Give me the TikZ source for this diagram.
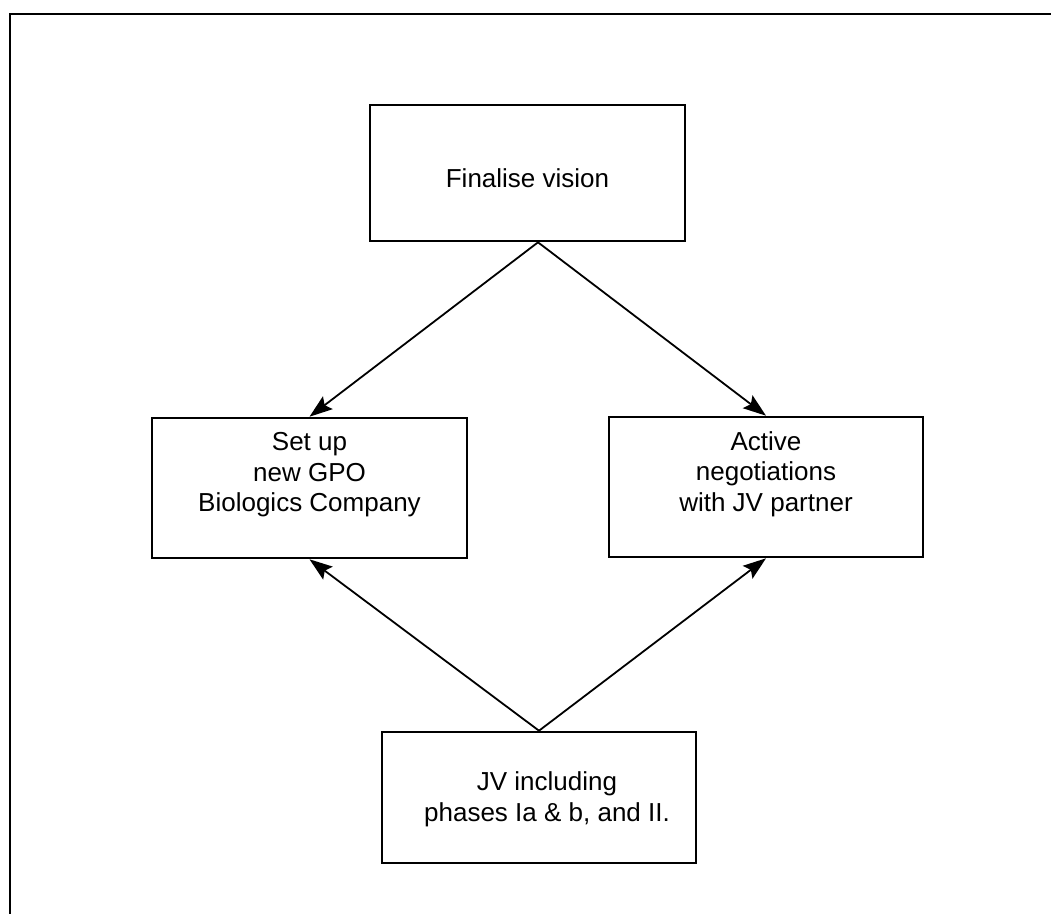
\documentclass[tikz,border=0pt]{standalone}
\usepackage{fontspec}
\setmainfont{Liberation Sans}
\usetikzlibrary{arrows.meta}
\begin{document}
\begin{tikzpicture}[x=1pt,y=-1pt,
  box/.style={draw, line width=2.6pt, minimum width=#1, inner sep=0pt},
  lbl/.style={align=center, font=\fontsize{26}{30.5}\selectfont, inner sep=0pt},
  arr/.style={line width=1.8pt, -{Stealth[length=23pt,width=16pt,inset=4pt]}},
  frame/.style={line width=2pt}]
\useasboundingbox (0,0) rectangle (1051,914);
\draw[frame] (1051,14) -- (10,14) -- (10,914);
% boxes
\node[box=315pt, minimum height=136pt] (fin) at (527.5,173) {};
\node[box=315pt, minimum height=140pt] (s) at (309.5,488) {};
\node[box=314pt, minimum height=140pt] (a) at (766,487) {};
\node[box=314pt, minimum height=131pt] (jv) at (539,797.5) {};
% labels
\node[lbl] (finl) at ([yshift=-5pt]fin.center) {Finalise vision};
\node[lbl] (sl) at ([yshift=13pt]s.center) {Set up\\new GPO\\Biologics Company};
\node[lbl] (al) at ([yshift=13pt]a.center) {Active\\negotiations\\with JV partner};
\node[lbl] (jvl) at ([xshift=8pt,yshift=-2pt]jv.center) {JV including\\phases Ia \& b, and II.};
% connectors
\coordinate (fapex) at ([xshift=10.5pt]fin.south);
\draw[arr] (fapex) -- (s.north);
\draw[arr] (fapex) -- (a.north);
\draw[arr] (jv.north) -- (s.south);
\draw[arr] (jv.north) -- (a.south);
\end{tikzpicture}
\end{document}
